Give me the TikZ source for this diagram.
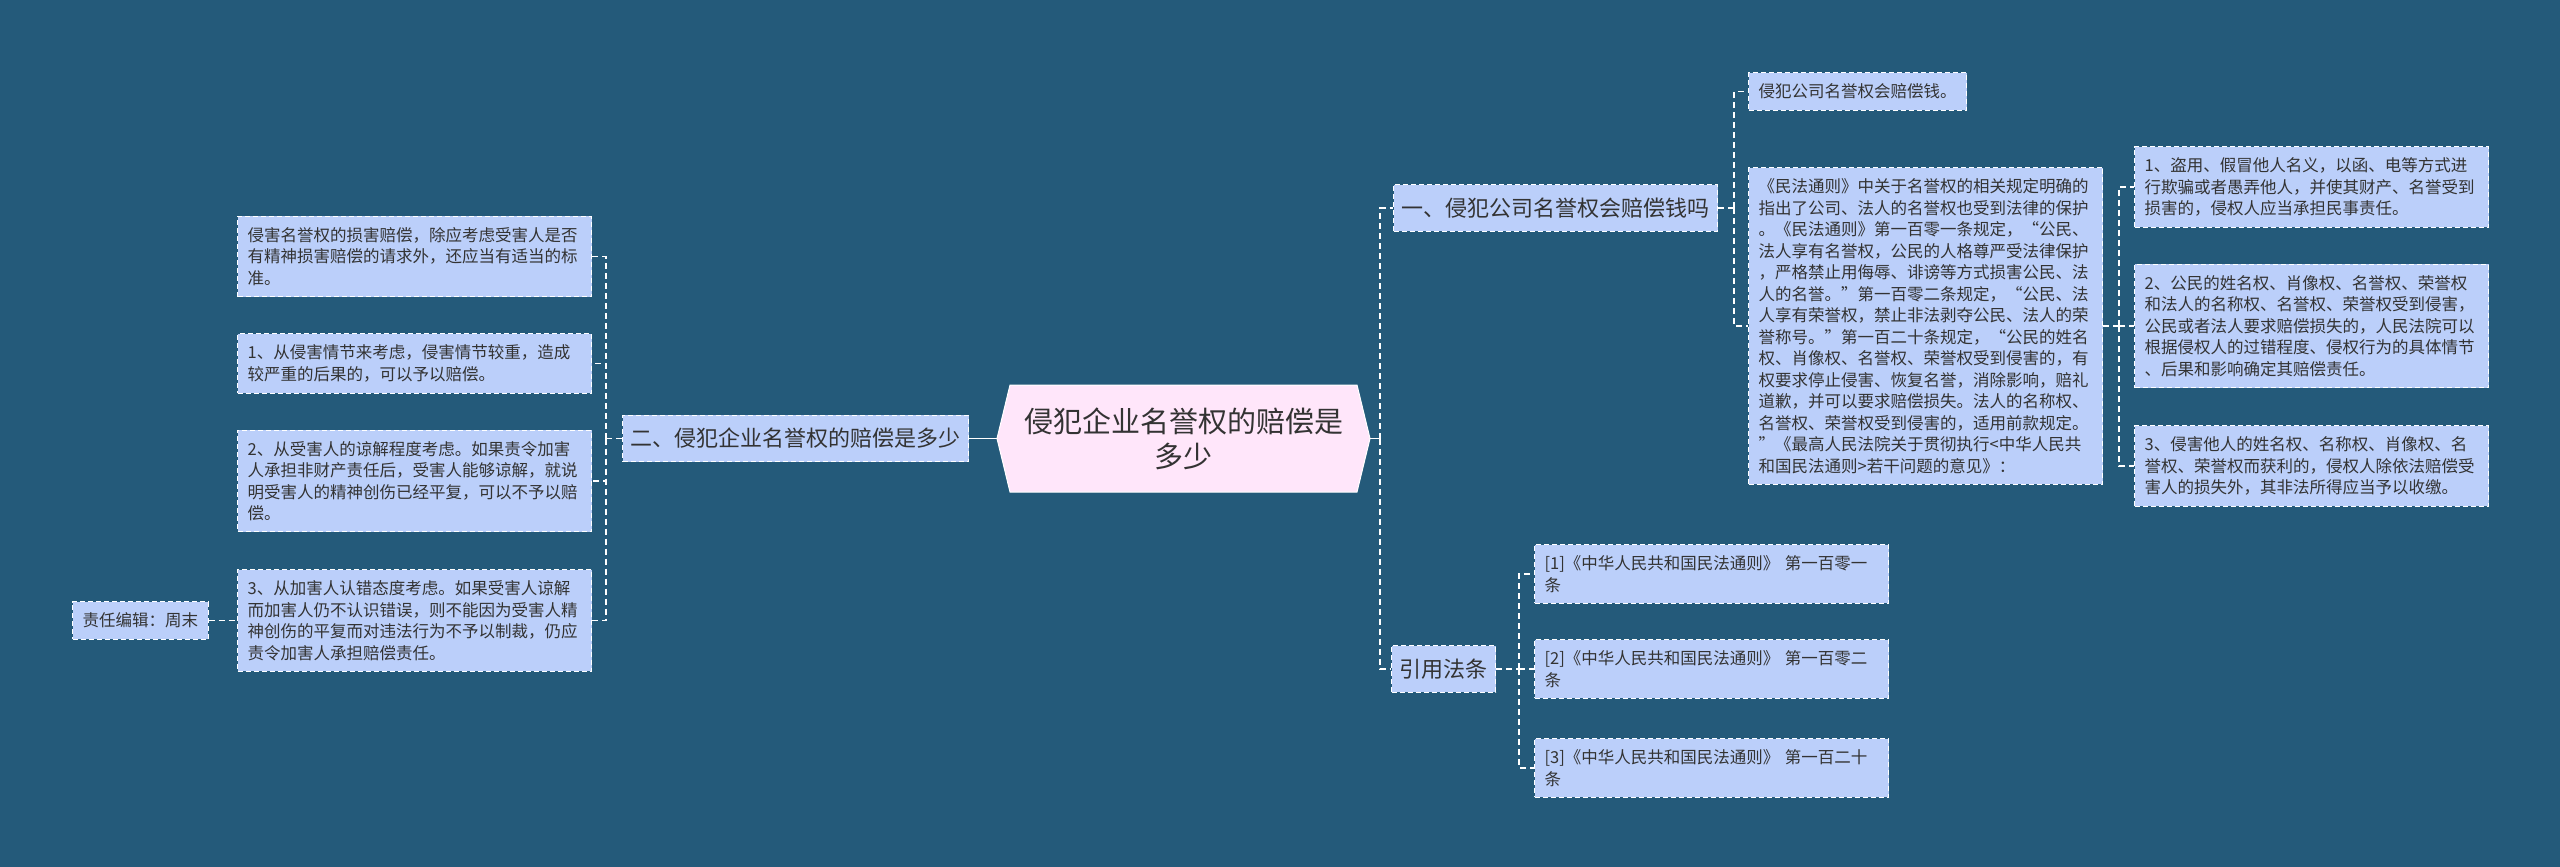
\documentclass[tikz,border=0pt]{standalone}
\usepackage{fontspec}
\setmainfont{Noto Sans CJK SC}
\usetikzlibrary{calc}
\definecolor{bgblue}{HTML}{245A7A}
\definecolor{boxblue}{HTML}{BBCFFA}
\definecolor{mainpink}{HTML}{FFE6FA}
\definecolor{inkgrey}{HTML}{333333}
\tikzset{
  boxbase/.style={draw=white, dash pattern=on 5pt off 3pt, line width=1.2pt, fill=boxblue,
    text=inkgrey, font=\fontsize{16.5}{21.5}\selectfont, align=left,
    inner xsep=10pt, inner ysep=11pt, anchor=west},
  leaf/.style={boxbase, text width=334pt},
  tag/.style={boxbase},
  branch/.style={boxbase, font=\fontsize{22}{26}\selectfont, inner xsep=8pt, inner ysep=13pt},
  maintext/.style={text=inkgrey, font=\fontsize{29}{35}\selectfont, align=center,
    minimum width=373pt, minimum height=107pt, inner sep=0pt},
  link/.style={draw=white, line width=1.8pt, dash pattern=on 6pt off 4pt},
  solidlink/.style={draw=white, line width=1.8pt}
}
\begin{document}
\begin{tikzpicture}[x=1pt,y=-1pt]
\fill[bgblue] (0,0) rectangle (2560,867);
\useasboundingbox (0,0) rectangle (2560,867);

\coordinate (hubL) at (606,438.5);
\coordinate (hubR) at (1380,438.5);
\coordinate (hubA) at (1734,208);
\coordinate (hubA2) at (2119,326);
\coordinate (hubRef) at (1519,669);

% centre
\filldraw[fill=mainpink, draw=white, line width=1pt] (1010,385) -- (997,438.5) -- (1010,492)
  -- (1357,492) -- (1370,438.5) -- (1357,385) -- cycle;
\node[maintext] (main) at (1183.5,438.5) {侵犯企业名誉权的赔偿是\\多少};

% left side
\node[branch] (partB) at (622,438.5) {二、侵犯企业名誉权的赔偿是多少};
\node[leaf] (b1) at (237,256.5) {侵害名誉权的损害赔偿，除应考虑受害人是否\\有精神损害赔偿的请求外，还应当有适当的标\\准。};
\node[leaf] (b2) at (237,363.5) {1、从侵害情节来考虑，侵害情节较重，造成\\较严重的后果的，可以予以赔偿。};
\node[leaf] (b3) at (237,481) {2、从受害人的谅解程度考虑。如果责令加害\\人承担非财产责任后，受害人能够谅解，就说\\明受害人的精神创伤已经平复，可以不予以赔\\偿。};
\node[leaf] (b4) at (237,620.5) {3、从加害人认错态度考虑。如果受害人谅解\\而加害人仍不认识错误，则不能因为受害人精\\神创伤的平复而对违法行为不予以制裁，仍应\\责令加害人承担赔偿责任。};
\node[tag] (editor) at (72,620.5) {责任编辑：周末};

% right side
\node[branch] (partA) at (1393,208) {一、侵犯公司名誉权会赔偿钱吗};
\node[branch] (refs) at (1391,669) {引用法条};
\node[tag] (a1) at (1748,91.5) {侵犯公司名誉权会赔偿钱。};
\node[leaf] (a2) at (1748,326) {《民法通则》中关于名誉权的相关规定明确的\\指出了公司、法人的名誉权也受到法律的保护\\。《民法通则》第一百零一条规定，“公民、\\法人享有名誉权，公民的人格尊严受法律保护\\，严格禁止用侮辱、诽谤等方式损害公民、法\\人的名誉。”第一百零二条规定，“公民、法\\人享有荣誉权，禁止非法剥夺公民、法人的荣\\誉称号。”第一百二十条规定，“公民的姓名\\权、肖像权、名誉权、荣誉权受到侵害的，有\\权要求停止侵害、恢复名誉，消除影响，赔礼\\道歉，并可以要求赔偿损失。法人的名称权、\\名誉权、荣誉权受到侵害的，适用前款规定。\\”《最高人民法院关于贯彻执行<中华人民共\\和国民法通则>若干问题的意见》：};
\node[leaf] (a2x1) at (2134,187) {1、盗用、假冒他人名义，以函、电等方式进\\行欺骗或者愚弄他人，并使其财产、名誉受到\\损害的，侵权人应当承担民事责任。};
\node[leaf] (a2x2) at (2134,326) {2、公民的姓名权、肖像权、名誉权、荣誉权\\和法人的名称权、名誉权、荣誉权受到侵害，\\公民或者法人要求赔偿损失的，人民法院可以\\根据侵权人的过错程度、侵权行为的具体情节\\、后果和影响确定其赔偿责任。};
\node[leaf] (a2x3) at (2134,466) {3、侵害他人的姓名权、名称权、肖像权、名\\誉权、荣誉权而获利的，侵权人除依法赔偿受\\害人的损失外，其非法所得应当予以收缴。};
\node[leaf] (r1) at (1534,574) {[1]《中华人民共和国民法通则》~第一百零一\\条};
\node[leaf] (r2) at (1534,669) {[2]《中华人民共和国民法通则》~第一百零二\\条};
\node[leaf] (r3) at (1534,768) {[3]《中华人民共和国民法通则》~第一百二十\\条};

% connectors
\draw[solidlink] (main.east) -- (hubR);
\draw[link] (hubR) |- (partA.west);
\draw[link] (hubR) |- (refs.west);
\draw[solidlink] (main.west) -- (partB.east);
\draw[link] (partB.west) -- (hubL);
\foreach \n in {b1,b2,b3,b4} \draw[link] (hubL) |- (\n.east);
\draw[link] (editor.east) -- (b4.west);
\draw[link] (partA.east) -- (hubA);
\foreach \n in {a1,a2} \draw[link] (hubA) |- (\n.west);
\draw[link] (a2.east) -- (hubA2);
\foreach \n in {a2x1,a2x2,a2x3} \draw[link] (hubA2) |- (\n.west);
\draw[link] (refs.east) -- (hubRef);
\foreach \n in {r1,r2,r3} \draw[link] (hubRef) |- (\n.west);
\end{tikzpicture}
\end{document}
